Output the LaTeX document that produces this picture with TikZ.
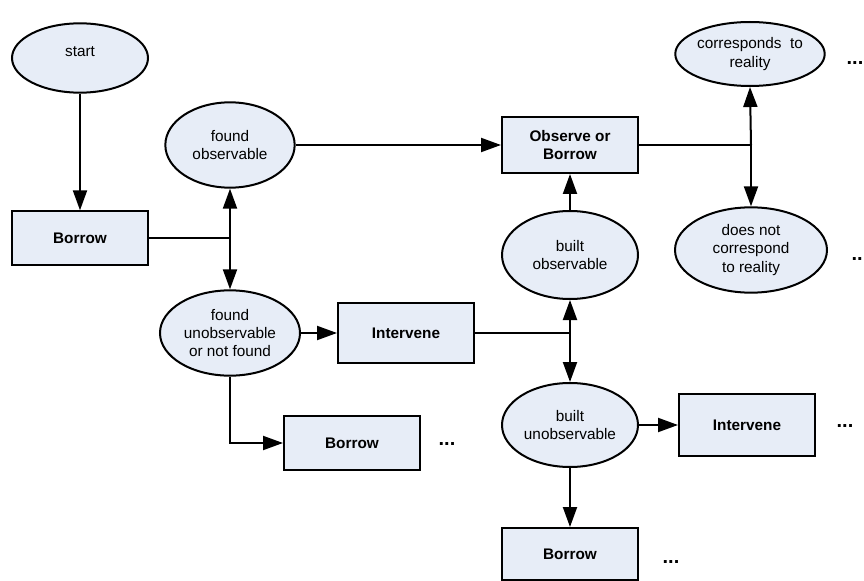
\documentclass[tikz,border=0pt]{standalone}
\usepackage{fontspec}
\setmainfont{Liberation Sans}
\usetikzlibrary{arrows.meta,shapes.geometric}
\definecolor{paleblue}{HTML}{E7EDF7}
\definecolor{ink}{HTML}{000000}
\tikzset{
  oval/.style={
    ellipse, draw=ink, fill=paleblue, line width=1.5pt,
    inner sep=0pt, align=center,
    font=\fontsize{11.5}{13.8}\selectfont
  },
  act/.style={
    rectangle, draw=ink, fill=paleblue, line width=1.5pt,
    inner sep=0pt, align=center, minimum width=102pt,
    font=\fontsize{11.5}{13.8}\selectfont\bfseries
  },
  arrow/.style={-{Triangle[length=15pt, width=10.5pt]}, line width=1.5pt, draw=ink},
  plain/.style={line width=1.5pt, draw=ink},
  more/.style={font=\fontsize{15}{18}\selectfont\bfseries, inner sep=0pt, anchor=base}
}
\begin{document}
\begin{tikzpicture}[x=0.75pt, y=-0.75pt]
  \useasboundingbox (0,0) rectangle (864,581);
  % left column
  \node[oval, minimum width=102pt, minimum height=52pt] (start) at (80,58) {\raisebox{9pt}{start}};
  \node[act, minimum height=40pt] (b1) at (80,238) {Borrow};
  \node[oval, minimum width=97pt, minimum height=64pt] (fobs) at (230,145) {found\\observable};
  \node[oval, minimum width=105pt, minimum height=64pt] (funobs) at (230,333) {found\\unobservable\\or not found};
  \node[act, minimum height=45pt] (int1) at (406,333) {Intervene};
  \node[act, minimum height=40pt] (b2) at (352,443) {Borrow};
  \node[more] (dots1) at (447,445) {...};
  % middle column
  \node[act, minimum height=42pt] (obs) at (570,145) {Observe or\\Borrow};
  \node[oval, minimum width=102pt, minimum height=66pt] (bobs) at (570,255) {built\\observable};
  \node[oval, minimum width=102pt, minimum height=63pt] (bunobs) at (570,425) {built\\unobservable};
  \node[act, minimum height=46pt] (int2) at (747,425) {Intervene};
  \node[more] (dots2) at (845,427) {...};
  \node[act, minimum height=39pt] (b3) at (570,554) {Borrow};
  \node[more] (dots3) at (671,563) {...};
  % right column
  \node[oval, minimum width=108pt, minimum height=48pt] (corr) at (750,54) {corresponds\ \ to\\reality};
  \node[more] (dots4) at (855,65) {...};
  \node[oval, minimum width=114pt, minimum height=64pt] (ncorr) at (751,250) {does not\\correspond\\to reality};
  \node[more] (dots5) at (860,260) {...};
  % junctions
  \coordinate (j1) at (230,238);
  \coordinate (j2) at (570,333);
  \coordinate (j3) at (751,145);
  % connectors
  \draw[arrow] (start) -- (b1);
  \draw[plain] (b1.east) -- (j1);
  \draw[arrow] (j1) -- (fobs.south);
  \draw[arrow] (j1) -- (funobs.north);
  \draw[arrow] (fobs.east) -- (obs.west);
  \draw[arrow] (funobs.east) -- (int1.west);
  \draw[arrow] (funobs.south) |- (b2.west);
  \draw[plain] (int1.east) -- (j2);
  \draw[arrow] (j2) -- (bobs.south);
  \draw[arrow] (j2) -- (bunobs.north);
  \draw[arrow] (bobs) -- (obs);
  \draw[plain] (obs.east) -- (j3);
  \draw[arrow] (j3) -- (corr.south);
  \draw[arrow] (j3) -- (ncorr.north);
  \draw[arrow] (bunobs) -- (int2);
  \draw[arrow] (bunobs) -- (b3);
\end{tikzpicture}
\end{document}
